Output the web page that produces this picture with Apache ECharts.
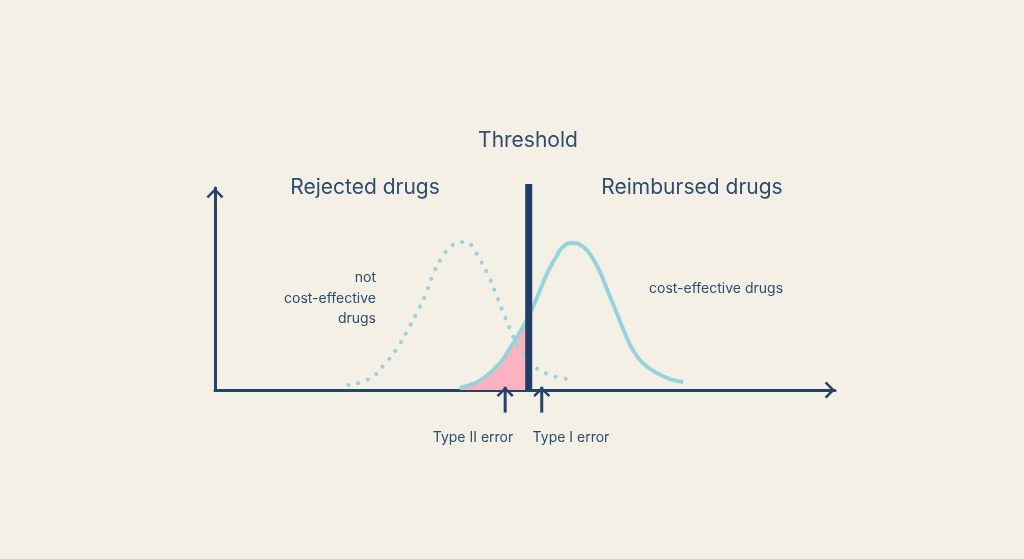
<!DOCTYPE html>
<html>
<head>
<meta charset="utf-8">
<script src="https://cdn.jsdelivr.net/npm/echarts@6/dist/echarts.min.js"></script>
<style>
  html, body { margin: 0; padding: 0; background: #f4f0e6; }
  #chart { width: 1024px; height: 559px; }
</style>
</head>
<body>
<div id="chart"></div>
<script>
// values (x: 0-100 along the axis, y: 0-100 up the axis)
var threshold = 50.6;
var thresholdTop = 102;

var notCostX = [21.5, 24.8, 27.4, 29.5, 31.1, 32.6, 34.0, 35.2, 36.6, 37.7, 39.0, 40.3, 41.6, 42.4, 43.9, 45.2, 46.3, 47.6, 49.0, 51.1, 52.6, 54.2, 55.8, 57.6];
var notCostY = [2.5, 5.4, 12.9, 21.3, 29.7, 38.6, 47.5, 57.4, 65.8, 69.8, 72.8, 73.3, 70.8, 66.3, 57.9, 48.5, 39.6, 30.2, 20.8, 12.9, 9.4, 7.4, 5.9, 5.4];

var costX = [39.5, 41.6, 43.2, 46.0, 47.6, 48.9, 50.6, 51.9, 52.9, 54.0, 55.2, 56.1, 57.7, 59.4, 60.8, 62.1, 63.4, 64.8, 66.1, 67.4, 69.0, 71.3, 73.4, 75.5];
var costY = [1.0, 3.0, 5.6, 13.4, 20.8, 27.2, 36.5, 45.5, 53.0, 60.4, 66.8, 70.8, 72.8, 70.8, 65.8, 58.4, 48.5, 38.1, 28.2, 19.8, 13.4, 8.4, 5.4, 4.0];

var errorNames = ['Type II error', 'Type I error'];
var errorX = [46.8, 52.7];
var arrowFrom = -11.2;
var arrowTo = 1.6;

var navy = '#23456b';
var textColor = '#2e4c6e';
var curveColor = '#97d3dc';
var pink = '#fbb3c1';
var font = 'Inter, "Noto Sans", sans-serif';

// open chevron pointing up, apex sits at the symbol centre
var chevron = 'path://M0,0L8.5,8.5L6.7,10.3L0,3.6L-6.7,10.3L-8.5,8.5ZM0,-10.3L0.01,-10.3';
var chevronSize = [17, 20.6];

function pairs(xs, ys) {
  return xs.map(function(x, i) { return [x, ys[i]]; });
}

var costData = pairs(costX, costY);
var typeTwoData = costData.filter(function(p) { return p[0] <= threshold; });

var chart = echarts.init(document.getElementById('chart'));

var axisBase = {
  type: 'value',
  min: 0,
  max: 100,
  axisLine: {
    show: true,
    symbol: ['none', chevron],
    symbolSize: chevronSize,
    lineStyle: { color: navy, width: 3 }
  },
  axisTick: { show: false },
  axisLabel: { show: false },
  splitLine: { show: false }
};

function label(text, x, y, size, align) {
  return {
    type: 'text',
    x: x,
    y: y,
    style: {
      text: text,
      font: '400 ' + size + 'px ' + font,
      fill: textColor,
      align: align || 'center',
      verticalAlign: 'middle'
    }
  };
}

var series = [
  {
    name: 'type II area',
    type: 'line',
    data: typeTwoData,
    smooth: 0.5,
    symbol: 'none',
    lineStyle: { width: 0 },
    areaStyle: { color: pink, opacity: 1 },
    z: 1
  },
  {
    name: 'not cost-effective',
    type: 'line',
    data: pairs(notCostX, notCostY),
    smooth: 0.5,
    symbol: 'none',
    lineStyle: { color: curveColor, width: 4, type: [0.1, 10], cap: 'round' },
    z: 2
  },
  {
    name: 'cost-effective',
    type: 'line',
    data: costData,
    smooth: 0.5,
    symbol: 'none',
    lineStyle: { color: curveColor, width: 4 },
    z: 3
  },
  {
    name: 'threshold',
    type: 'line',
    data: [[threshold, 0], [threshold, thresholdTop]],
    symbol: 'none',
    clip: false,
    lineStyle: { color: '#1f3e63', width: 7 },
    z: 4
  }
];

errorX.forEach(function(x, i) {
  series.push({
    name: errorNames[i],
    type: 'line',
    clip: false,
    silent: true,
    showAllSymbol: true,
    data: [
      { value: [x, arrowFrom], symbol: 'none' },
      { value: [x, arrowTo], symbol: chevron, symbolSize: chevronSize }
    ],
    itemStyle: { color: navy, borderWidth: 0 },
    lineStyle: { color: navy, width: 3 },
    z: 5
  });
});

var option = {
  backgroundColor: '#f4f0e6',
  animation: false,
  grid: { left: 215, right: 189, top: 188, bottom: 169 },
  xAxis: Object.assign({}, axisBase),
  yAxis: Object.assign({}, axisBase),
  series: series,
  graphic: [
    label('Threshold', 528, 141, 21),
    label('Rejected drugs', 365, 188, 21),
    label('Reimbursed drugs', 692, 188, 21),
    label('not', 376, 278, 14, 'right'),
    label('cost-effective', 376, 299, 14, 'right'),
    label('drugs', 376, 319, 14, 'right'),
    label('cost-effective drugs', 649, 289, 14, 'left'),
    label(errorNames[0], 473, 438, 14),
    label(errorNames[1], 571, 438, 14)
  ]
};

chart.setOption(option);
</script>
</body>
</html>
